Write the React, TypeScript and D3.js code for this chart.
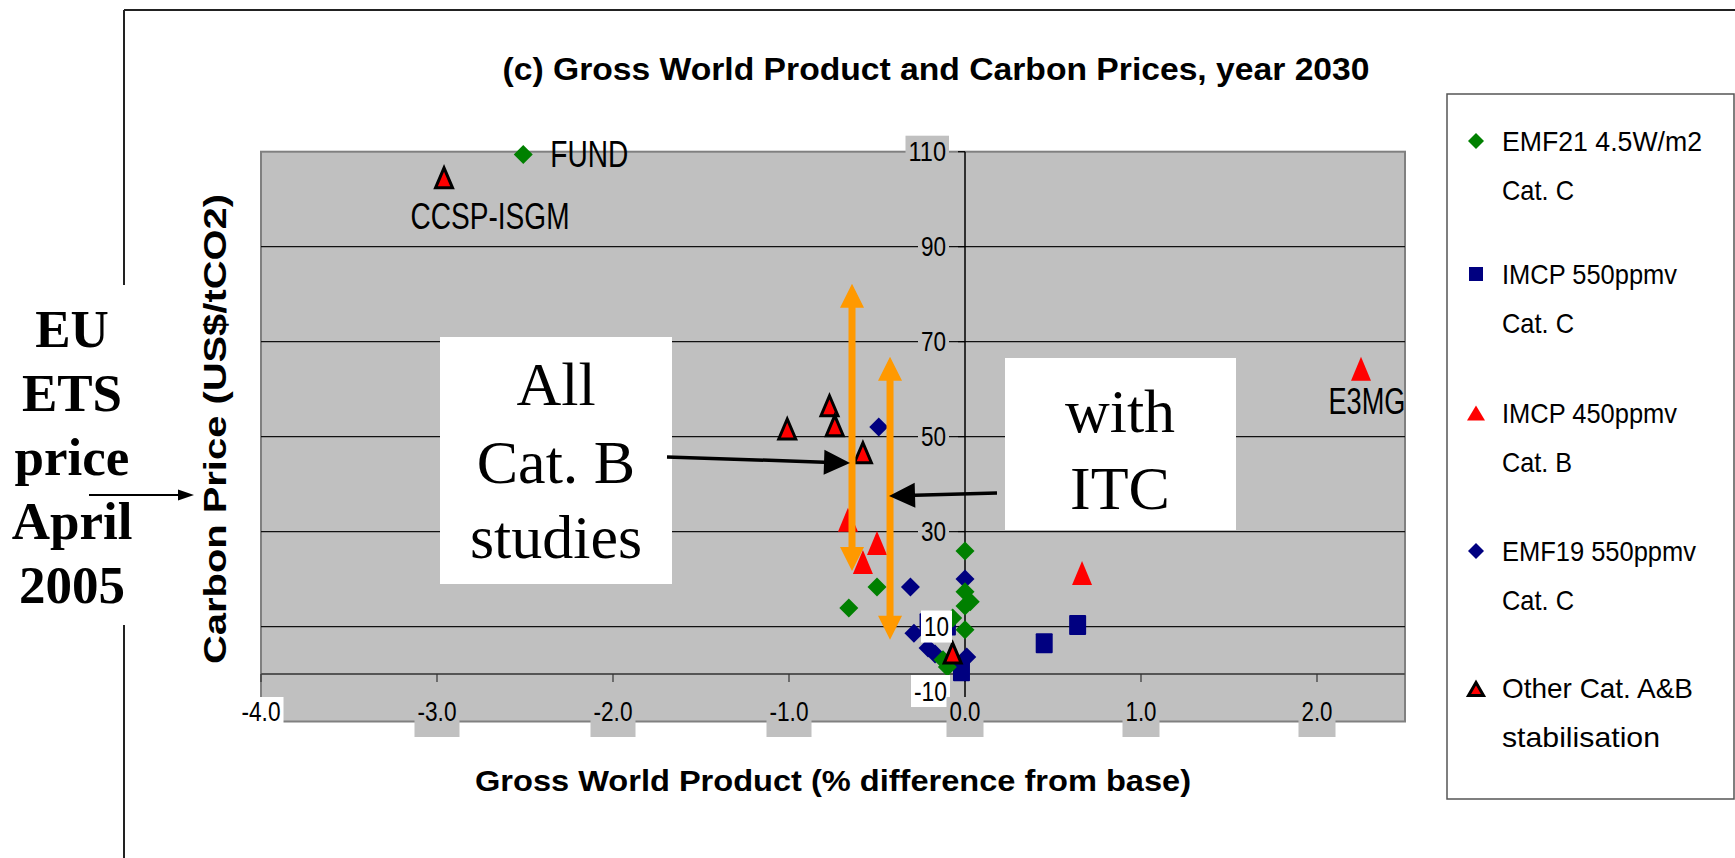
import React from "react";
import * as d3 from "d3";

// ---- data ----
const xTicks = [-4, -3, -2, -1, 0, 1, 2];
const xTickLabels = ["-4.0", "-3.0", "-2.0", "-1.0", "0.0", "1.0", "2.0"];
const yGrid = [10, 30, 50, 70, 90, 110];
const yTicks = [110, 90, 70, 50, 30, 10, -10];
const yTickLabels = ["110", "90", "70", "50", "30", "10", "-10"];

// EMF21 4.5W/m2 Cat. C (green diamonds)
const emf21: [number, number][] = [
  [-2.51, 109.4], [-0.66, 13.9], [-0.5, 18.3], [0.0, 25.9], [0.0, 17.3],
  [0.03, 15.2], [0.0, 14.3], [0.0, 9.3], [-0.07, 11.8], [-0.125, 3.0], [-0.1, 1.5],
];
// IMCP 550ppmv Cat. C (blue squares)
const imcp550: [number, number][] = [
  [0.45, 6.5], [0.64, 10.3], [-0.02, 0.6], [-0.21, 10.7], [-0.1, 10.2],
];
// IMCP 450ppmv Cat. B (red triangles)
const imcp450: [number, number][] = [
  [2.25, 64.3], [0.665, 21.3], [-0.665, 32.5], [-0.5, 27.6], [-0.58, 23.6],
];
// EMF19 550ppmv Cat. C (navy diamonds)
const emf19: [number, number][] = [
  [-0.49, 52.0], [-0.31, 18.3], [0.0, 20.0], [-0.29, 8.6], [-0.21, 5.5], [-0.17, 4.2], [0.01, 3.6],
];
// Other Cat. A&B stabilisation (red triangles, black outline)
const otherAB: [number, number][] = [
  [-2.96, 104.5], [-1.01, 51.6], [-0.77, 56.5], [-0.74, 52.3], [-0.58, 46.6], [-0.07, 4.4],
];

const pointLabels = [
  { text: "FUND", x: -2.51, y: 109.4 },
  { text: "CCSP-ISGM", x: -2.96, y: 104.5 },
  { text: "E3MG", x: 2.25, y: 64.3 },
];

const legendNames = [
  ["EMF21 4.5W/m2", "Cat. C"],
  ["IMCP 550ppmv", "Cat. C"],
  ["IMCP 450ppmv", "Cat. B"],
  ["EMF19 550ppmv", "Cat. C"],
  ["Other Cat. A&B", "stabilisation"],
];

// orange range arrows (x, yTop, yBottom) in data units
const rangeArrows = [
  { x: -0.642, y0: 82.2, y1: 21.7 },
  { x: -0.426, y0: 66.8, y1: 7.2 },
];

const GREEN = "#008000";
const NAVY = "#000080";
const RED = "#FF0000";
const ORANGE = "#FF9900";
const GRAY = "#C0C0C0";
const SANS = "'Liberation Sans', Arial, sans-serif";
const SERIF = "'Liberation Serif', 'Times New Roman', serif";

const X = d3.scaleLinear().domain([-4, 2.5]).range([261, 1405]);
const Y = d3.scaleLinear().domain([-10, 110]).range([721.5, 151.7]);

function Diamond({ cx, cy, r, fill }: { cx: number; cy: number; r: number; fill: string }) {
  return <path d={`M${cx},${cy - r}L${cx + r},${cy}L${cx},${cy + r}L${cx - r},${cy}Z`} fill={fill} />;
}
function Square({ cx, cy, w, h }: { cx: number; cy: number; w: number; h: number }) {
  return <rect x={cx - w / 2} y={cy - h / 2} width={w} height={h} fill={NAVY} rx={1} />;
}
function Tri({ cx, cy, w, h, outline }: { cx: number; cy: number; w: number; h: number; outline?: boolean }) {
  return (
    <path
      d={`M${cx},${cy - h / 2}L${cx + w / 2},${cy + h / 2}L${cx - w / 2},${cy + h / 2}Z`}
      fill={RED}
      stroke={outline ? "#000" : "none"}
      strokeWidth={outline ? 3 : 0}
      strokeLinejoin="miter"
    />
  );
}

function arrowPoly(x0: number, y0: number, x1: number, y1: number, shaft: number, hw: number, hl: number) {
  const dx = x1 - x0, dy = y1 - y0;
  const L = Math.hypot(dx, dy);
  const ux = dx / L, uy = dy / L;
  const nx = -uy, ny = ux;
  const bx = x1 - ux * hl, by = y1 - uy * hl;
  const p = (a: number, b: number) => `${a},${b}`;
  return [
    p(x0 + nx * shaft / 2, y0 + ny * shaft / 2),
    p(bx + nx * shaft / 2, by + ny * shaft / 2),
    p(bx + nx * hw / 2, by + ny * hw / 2),
    p(x1, y1),
    p(bx - nx * hw / 2, by - ny * hw / 2),
    p(bx - nx * shaft / 2, by - ny * shaft / 2),
    p(x0 - nx * shaft / 2, y0 - ny * shaft / 2),
  ].join(" ");
}

function doubleArrow(x: number, yTop: number, yBot: number, shaft: number, hw: number, hl: number) {
  const p = (a: number, b: number) => `${a},${b}`;
  return [
    p(x, yTop),
    p(x + hw / 2, yTop + hl),
    p(x + shaft / 2, yTop + hl),
    p(x + shaft / 2, yBot - hl),
    p(x + hw / 2, yBot - hl),
    p(x, yBot),
    p(x - hw / 2, yBot - hl),
    p(x - shaft / 2, yBot - hl),
    p(x - shaft / 2, yTop + hl),
    p(x - hw / 2, yTop + hl),
  ].join(" ");
}

const tickLen = (s: string) => s.split("").reduce((a, c) => a + (c === "." ? 6 : c === "-" ? 8 : 12.5), 0);

export default function App() {
  const left = X.range()[0], right = X.range()[1];
  const top = Y(110), bottom = Y(-10);
  const y0 = Y(0), x0 = X(0);

  const legendRows = [141, 274, 413, 551, 688];
  const legendLen = [[200, 72], [175, 72], [175, 70], [194, 72], [191, 158]];

  return (
    <svg width={1735} height={858} style={{ position: "absolute", left: 0, top: 0, background: "#fff" }}>
      {/* outer frame */}
      <line x1={124} y1={10} x2={1735} y2={10} stroke="#222" strokeWidth={2} />
      <line x1={124} y1={10} x2={124} y2={285} stroke="#222" strokeWidth={2} />
      <line x1={124} y1={625} x2={124} y2={858} stroke="#222" strokeWidth={2} />

      {/* title */}
      <text x={936} y={80} textAnchor="middle" fontFamily={SANS} fontWeight="bold" fontSize={32}
        textLength={867} lengthAdjust="spacingAndGlyphs">(c) Gross World Product and Carbon Prices, year 2030</text>

      {/* plot area */}
      <rect x={left} y={top} width={right - left} height={bottom - top} fill={GRAY} stroke="#808080" strokeWidth={2} />
      {yGrid.filter((v) => v < 110).map((v) => (
        <line key={v} x1={left} x2={right} y1={Y(v)} y2={Y(v)} stroke="#111" strokeWidth={1.2} />
      ))}
      {/* x axis at y=0 */}
      <line x1={left} x2={right} y1={y0} y2={y0} stroke="#555" strokeWidth={2} />
      {xTicks.map((v) => (
        <line key={v} x1={X(v)} x2={X(v)} y1={y0} y2={y0 + 8} stroke="#333" strokeWidth={1.2} />
      ))}
      {/* y axis at x=0 */}
      <line x1={x0} x2={x0} y1={top} y2={bottom} stroke="#000" strokeWidth={1.5} />
      {yTicks.filter((v) => v >= 0).map((v) => (
        <line key={v} x1={x0 - 7} x2={x0} y1={Y(v)} y2={Y(v)} stroke="#000" strokeWidth={1.2} />
      ))}

      {/* white annotation boxes */}
      <rect x={440} y={337} width={232} height={247} fill="#fff" />
      <text x={556} y={405} textAnchor="middle" fontFamily={SERIF} fontSize={62}>All</text>
      <text x={556} y={483} textAnchor="middle" fontFamily={SERIF} fontSize={62}>Cat. B</text>
      <text x={556} y={558} textAnchor="middle" fontFamily={SERIF} fontSize={62}>studies</text>
      <rect x={1005} y={358} width={231} height={172} fill="#fff" />
      <text x={1120} y={432} textAnchor="middle" fontFamily={SERIF} fontSize={62}>with</text>
      <text x={1120} y={509} textAnchor="middle" fontFamily={SERIF} fontSize={62}>ITC</text>

      {/* series markers */}
      {emf19.map(([x, y], i) => <Diamond key={"e19" + i} cx={X(x)} cy={Y(y)} r={9.5} fill={NAVY} />)}
      {imcp550.map(([x, y], i) => <Square key={"i55" + i} cx={X(x)} cy={Y(y)} w={17} h={20} />)}
      {emf21.map(([x, y], i) => <Diamond key={"e21" + i} cx={X(x)} cy={Y(y)} r={9.5} fill={GREEN} />)}
      {imcp450.map(([x, y], i) => <Tri key={"i45" + i} cx={X(x)} cy={Y(y)} w={20} h={24} />)}
      {otherAB.map(([x, y], i) => <Tri key={"oab" + i} cx={X(x)} cy={Y(y)} w={17} h={20} outline />)}

      {/* y tick labels (drawn over markers, as in the original) */}
      {yTicks.map((v, i) => {
        const isWhite = v === 10 || v === -10;
        const cy = v === -10 ? y0 + 17 : Y(v);
        const rx = v === 10 ? 952 : v === -10 ? 950 : 949;
        const w = tickLen(yTickLabels[i]);
        return (
          <g key={v}>
            <rect x={rx - w - 6} y={cy - 16} width={w + 6} height={32} fill={isWhite ? "#fff" : GRAY} />
            <text x={rx - 3} y={cy} dominantBaseline="central" textAnchor="end" fontFamily={SANS} fontSize={28}
              textLength={w} lengthAdjust="spacingAndGlyphs">{yTickLabels[i]}</text>
          </g>
        );
      })}
      {/* x tick labels */}
      {xTicks.map((v, i) => {
        const w = tickLen(xTickLabels[i]);
        const cx = X(v);
        return (
          <g key={v}>
            <rect x={cx - w / 2 - 3} y={697} width={w + 6} height={40} fill={v === -4 ? "#fff" : GRAY} />
            <text x={cx} y={711} dominantBaseline="central" textAnchor="middle" fontFamily={SANS} fontSize={28}
              textLength={w} lengthAdjust="spacingAndGlyphs">{xTickLabels[i]}</text>
          </g>
        );
      })}

      {/* point labels */}
      <text x={X(pointLabels[0].x) + 27} y={Y(pointLabels[0].y)} dominantBaseline="central" fontFamily={SANS}
        fontSize={37} textLength={78} lengthAdjust="spacingAndGlyphs">{pointLabels[0].text}</text>
      <text x={X(pointLabels[1].x) + 46} y={Y(pointLabels[1].y) + 39} dominantBaseline="central" textAnchor="middle"
        fontFamily={SANS} fontSize={37} textLength={159} lengthAdjust="spacingAndGlyphs">{pointLabels[1].text}</text>
      <text x={X(pointLabels[2].x) + 6} y={Y(pointLabels[2].y) + 33} dominantBaseline="central" textAnchor="middle"
        fontFamily={SANS} fontSize={37} textLength={77} lengthAdjust="spacingAndGlyphs">{pointLabels[2].text}</text>

      {/* orange double arrows */}
      {rangeArrows.map((a, i) => (
        <polygon key={i} points={doubleArrow(X(a.x), Y(a.y0), Y(a.y1), 7, 24, 24)} fill={ORANGE} />
      ))}
      {/* black pointer arrows */}
      <polygon points={arrowPoly(667, 457, X(rangeArrows[0].x) - 2, 463, 3.5, 25, 26)} fill="#000" />
      <polygon points={arrowPoly(997, 493, X(rangeArrows[1].x) - 1, 496, 3.5, 25, 26)} fill="#000" />

      {/* axis titles */}
      <text x={833} y={791} textAnchor="middle" fontFamily={SANS} fontWeight="bold" fontSize={30}
        textLength={716} lengthAdjust="spacingAndGlyphs">Gross World Product (% difference from base)</text>
      <text transform="translate(226,429) rotate(-90)" textAnchor="middle" fontFamily={SANS} fontWeight="bold"
        fontSize={31} textLength={470} lengthAdjust="spacingAndGlyphs">Carbon Price (US$/tCO2)</text>

      {/* EU ETS annotation */}
      {["EU", "ETS", "price", "April", "2005"].map((t, i) => (
        <text key={t} x={72} y={347 + i * 64} textAnchor="middle" fontFamily={SERIF} fontWeight="bold" fontSize={53}>{t}</text>
      ))}
      <polygon points={arrowPoly(89, 495, 194, 495, 2, 11, 16)} fill="#000" />

      {/* legend */}
      <rect x={1447} y={94} width={287} height={705} fill="#fff" stroke="#555" strokeWidth={1.5} />
      {legendNames.map((lines, i) => {
        const cy = legendRows[i];
        const mx = 1476;
        let marker;
        if (i === 0) marker = <Diamond cx={mx} cy={cy} r={8} fill={GREEN} />;
        else if (i === 1) marker = <rect x={mx - 7} y={cy - 7} width={14} height={14} fill={NAVY} />;
        else if (i === 2) marker = <Tri cx={mx} cy={cy} w={18} h={15} />;
        else if (i === 3) marker = <Diamond cx={mx} cy={cy} r={8} fill={NAVY} />;
        else marker = <Tri cx={mx} cy={cy + 1} w={15} h={13} outline />;
        return (
          <g key={i}>
            {marker}
            {lines.map((l, j) => (
              <text key={j} x={1502} y={cy + j * 49} dominantBaseline="central" fontFamily={SANS} fontSize={28}
                textLength={legendLen[i][j]} lengthAdjust="spacingAndGlyphs">{l}</text>
            ))}
          </g>
        );
      })}
    </svg>
  );
}
